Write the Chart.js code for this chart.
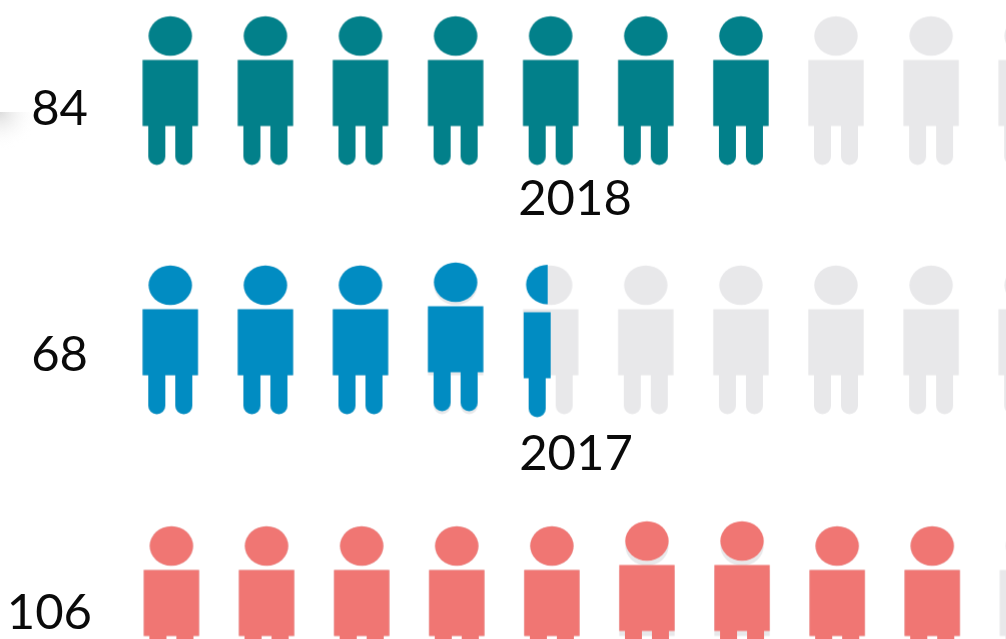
<!DOCTYPE html>
<html>
<head>
<meta charset="utf-8">
<style>html,body{margin:0;padding:0;background:#fff;overflow:hidden}canvas{display:block}</style>
<script src="https://cdn.jsdelivr.net/npm/chart.js@4/dist/chart.umd.min.js"></script>
</head>
<body>
<canvas id="c" width="1006" height="639"></canvas>
<script>
// ---- data ----
const rowTotals   = [84, 68, 106];
const rowYears    = ['2018', '2017'];
const filledIcons = [7, 4.5, 9];
const iconsPerRow = 10;
const rowColors   = ['#02808a', '#018cc2', '#f07673'];
const emptyColor  = '#e8e8ea';
// row positions on the y axis, small sideways shift per row
const rowPositions = [0, 0.997, 2.04];
const rowShift     = [0.003, 0.003, 0.015];
// icons that sit slightly raised in the picture: [row, icon, amount]
const raisedIcons  = [[1, 3, 0.012], [2, 5, 0.02], [2, 6, 0.02]];

// ---- icon sprites ----
function sprite(color, half) {
  const c = document.createElement('canvas');
  c.width = 60; c.height = 160;
  const g = c.getContext('2d');
  g.fillStyle = color;
  const leg = (x, dy) => {
    g.beginPath();
    g.moveTo(x, 110 + dy);
    g.lineTo(x + 17, 110 + dy);
    g.lineTo(x + 17, 146 + dy);
    g.arc(x + 8.5, 146 + dy, 8.5, 0, Math.PI);
    g.closePath();
    g.fill();
  };
  if (half) {
    g.save();
    g.beginPath(); g.rect(0, 0, 27, 50); g.clip();
    g.beginPath(); g.ellipse(27, 24.8, 21.6, 19.8, 0, 0, Math.PI * 2); g.fill();
    g.restore();
    g.fillRect(3, 52.5, 27, 66);
    leg(8, 3);
  } else {
    g.beginPath(); g.ellipse(30, 25.5, 21.7, 19.8, 0, 0, Math.PI * 2); g.fill();
    g.fillRect(2.3, 49.5, 55.4, 66);
    leg(8, 0);
    leg(35, 0);
  }
  return c;
}

// ---- datasets built from the arrays ----
const emptyPts = [];
const datasets = [];
rowPositions.forEach((y, r) => {
  for (let i = 0; i < iconsPerRow; i++) emptyPts.push({ x: i + rowShift[r], y });
});
datasets.push({ label: 'empty', data: emptyPts, pointStyle: sprite(emptyColor), clip: false, order: 2 });
filledIcons.forEach((n, r) => {
  const whole = [];
  for (let i = 0; i < Math.floor(n); i++) {
    const lift = raisedIcons.find(a => a[0] === r && a[1] === i);
    whole.push({ x: i + rowShift[r], y: rowPositions[r] - (lift ? lift[2] : 0) });
  }
  datasets.push({ label: 'filled ' + rowTotals[r], data: whole, pointStyle: sprite(rowColors[r]), clip: false, order: 1 });
  if (n % 1) {
    datasets.push({
      label: 'part ' + rowTotals[r],
      data: [{ x: Math.floor(n) + rowShift[r], y: rowPositions[r] }],
      pointStyle: sprite(rowColors[r], true),
      clip: false,
      order: 1
    });
  }
});

// ---- text and smudge ----
const totalOffset = [[88, 18.5], [88, 15], [92, 13]];
const yearOffset  = [[575, 108.5], [576, 114]];
const labels = {
  id: 'labels',
  beforeDatasetsDraw(chart) {
    const g = chart.ctx;
    g.save();
    g.beginPath(); g.rect(0, 112, 40, 40); g.clip();
    const grad = g.createRadialGradient(0, 112, 0, 0, 112, 38);
    grad.addColorStop(0, '#dcdcdc');
    grad.addColorStop(1, 'rgba(255,255,255,0)');
    g.fillStyle = grad;
    g.fillRect(0, 112, 40, 40);
    g.restore();
  },
  afterDatasetsDraw(chart) {
    const g = chart.ctx, ys = chart.scales.y;
    g.save();
    g.fillStyle = '#0a0a0a';
    g.font = '49px Lato';
    g.textBaseline = 'middle';
    g.textAlign = 'right';
    rowTotals.forEach((t, r) => {
      g.fillText(String(t), totalOffset[r][0], ys.getPixelForValue(rowPositions[r]) + totalOffset[r][1]);
    });
    g.textAlign = 'center';
    rowYears.forEach((t, r) => {
      g.fillText(t, yearOffset[r][0], ys.getPixelForValue(rowPositions[r]) + yearOffset[r][1]);
    });
    g.restore();
  }
};

new Chart(document.getElementById('c'), {
  type: 'scatter',
  data: { datasets },
  plugins: [labels],
  options: {
    responsive: false,
    animation: false,
    layout: { padding: 0, autoPadding: false },
    plugins: { legend: { display: false }, tooltip: { enabled: false }, title: { display: false } },
    scales: {
      x: { type: 'linear', display: false, min: -170 / 95.1, max: (1006 - 170) / 95.1 },
      y: { type: 'linear', display: false, reverse: true, min: -90.5 / 250, max: (639 - 90.5) / 250 }
    },
    elements: { point: { radius: 30, hoverRadius: 30 } }
  }
});
</script>
</body>
</html>
